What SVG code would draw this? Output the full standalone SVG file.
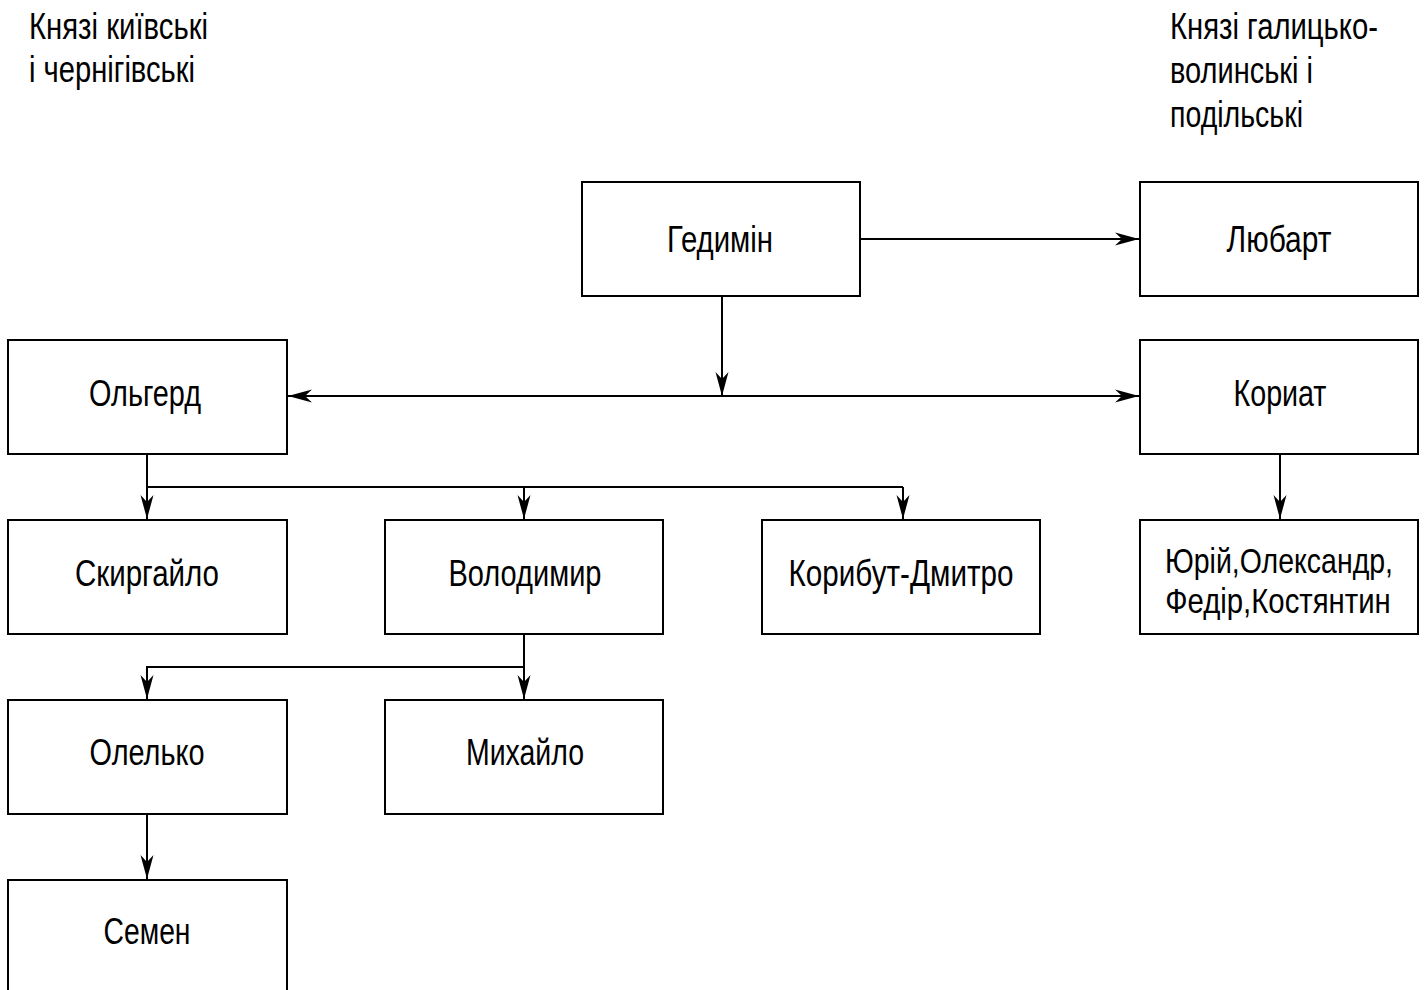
<svg xmlns="http://www.w3.org/2000/svg" width="1426" height="990" viewBox="0 0 1426 990">
<style>
.box{fill:#fff;stroke:#000;stroke-width:2}
.t{font-family:"Liberation Sans Narrow","Liberation Sans",Arial,sans-serif;font-size:36px;fill:#000;text-anchor:middle}
.h{font-family:"Liberation Sans Narrow","Liberation Sans",Arial,sans-serif;font-size:36px;fill:#000}
.c{fill:none;stroke:#000;stroke-width:2}
</style>
<defs>
<marker id="ah" markerUnits="userSpaceOnUse" markerWidth="30" markerHeight="18" viewBox="-26 -9 28 18" refX="0" refY="0" orient="auto-start-reverse">
<path d="M0,0 L-24,-6.5 L-17,0 L-24,6.5 Z" fill="#000"/>
</marker>
</defs>
<rect width="1426" height="990" fill="#fff"/>
<g id="headers">
<text class="h" x="29" y="39" textLength="179" lengthAdjust="spacingAndGlyphs">Князі київські</text>
<text class="h" x="29" y="82" textLength="166" lengthAdjust="spacingAndGlyphs">і чернігівські</text>
<text class="h" x="1170" y="39" textLength="208" lengthAdjust="spacingAndGlyphs">Князі галицько-</text>
<text class="h" x="1170" y="83" textLength="143" lengthAdjust="spacingAndGlyphs">волинські і</text>
<text class="h" x="1170" y="127" textLength="133" lengthAdjust="spacingAndGlyphs">подільські</text>
</g>
<g id="connectors">
<line class="c" x1="860" y1="239" x2="1139" y2="239" marker-end="url(#ah)"/>
<line class="c" x1="722" y1="296" x2="722" y2="396" marker-end="url(#ah)"/>
<line class="c" x1="288" y1="396" x2="1139" y2="396" marker-start="url(#ah)" marker-end="url(#ah)"/>
<line class="c" x1="147" y1="454" x2="147" y2="519" marker-end="url(#ah)"/>
<polyline class="c" points="147,487 903,487"/>
<line class="c" x1="524" y1="487" x2="524" y2="519" marker-end="url(#ah)"/>
<line class="c" x1="903" y1="487" x2="903" y2="519" marker-end="url(#ah)"/>
<line class="c" x1="1280" y1="454" x2="1280" y2="519" marker-end="url(#ah)"/>
<line class="c" x1="524" y1="634" x2="524" y2="699" marker-end="url(#ah)"/>
<polyline class="c" points="524,667 147,667 147,699" marker-end="url(#ah)"/>
<line class="c" x1="147" y1="814" x2="147" y2="879" marker-end="url(#ah)"/>
</g>
<g id="gedimin"><rect class="box" x="582" y="182" width="278" height="114"/><text class="t" x="720" y="252" textLength="106" lengthAdjust="spacingAndGlyphs">Гедимін</text></g>
<g id="lubart"><rect class="box" x="1140" y="182" width="278" height="114"/><text class="t" x="1279" y="252" textLength="105" lengthAdjust="spacingAndGlyphs">Любарт</text></g>
<g id="olgerd"><rect class="box" x="8" y="340" width="279" height="114"/><text class="t" x="145" y="406" textLength="112" lengthAdjust="spacingAndGlyphs">Ольгерд</text></g>
<g id="koriat"><rect class="box" x="1140" y="340" width="278" height="114"/><text class="t" x="1280" y="406" textLength="93" lengthAdjust="spacingAndGlyphs">Кориат</text></g>
<g id="skyrgailo"><rect class="box" x="8" y="520" width="279" height="114"/><text class="t" x="147" y="586" textLength="144" lengthAdjust="spacingAndGlyphs">Скиргайло</text></g>
<g id="volodymyr"><rect class="box" x="385" y="520" width="278" height="114"/><text class="t" x="525" y="586" textLength="153" lengthAdjust="spacingAndGlyphs">Володимир</text></g>
<g id="korybut"><rect class="box" x="762" y="520" width="278" height="114"/><text class="t" x="901" y="586" textLength="225" lengthAdjust="spacingAndGlyphs">Корибут-Дмитро</text></g>
<g id="koriat-sons"><rect class="box" x="1140" y="520" width="278" height="114"/><text class="t" transform="translate(1279,573) scale(0.8,1)" x="0" y="0" textLength="285" lengthAdjust="spacingAndGlyphs">Юрій,Олександр,</text><text class="t" transform="translate(1278,613) scale(0.8,1)" x="0" y="0" textLength="282" lengthAdjust="spacingAndGlyphs">Федір,Костянтин</text></g>
<g id="olelko"><rect class="box" x="8" y="700" width="279" height="114"/><text class="t" x="147" y="765" textLength="115" lengthAdjust="spacingAndGlyphs">Олелько</text></g>
<g id="mykhailo"><rect class="box" x="385" y="700" width="278" height="114"/><text class="t" x="525" y="765" textLength="118" lengthAdjust="spacingAndGlyphs">Михайло</text></g>
<g id="semen"><rect class="box" x="8" y="880" width="279" height="114"/><text class="t" x="147" y="944" textLength="87" lengthAdjust="spacingAndGlyphs">Семен</text></g>
</svg>
